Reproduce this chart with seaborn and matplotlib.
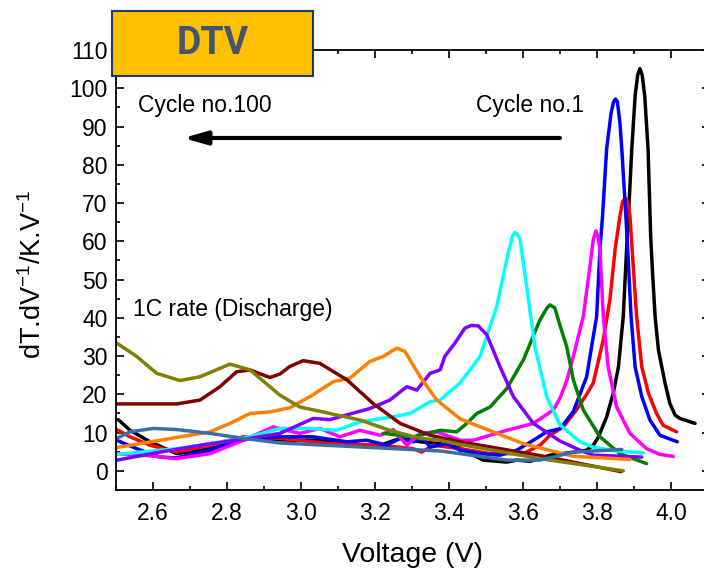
import matplotlib
matplotlib.use("Agg")
import matplotlib.pyplot as plt
from matplotlib.patches import Rectangle
from matplotlib.ticker import MultipleLocator
import seaborn as sns
import pandas as pd

# ---------------- data ----------------
V_black = [2.506, 2.538, 2.592, 2.664, 2.754, 2.862, 2.97, 3.078, 3.168, 3.214, 3.268, 3.322, 3.376, 3.43, 3.466,
           3.493, 3.556, 3.583, 3.62, 3.673, 3.73, 3.772, 3.79, 3.804, 3.826, 3.844, 3.858, 3.871, 3.88, 3.885,
           3.894, 3.903, 3.910, 3.916, 3.922, 3.929, 3.938, 3.945, 3.95, 3.957, 3.966, 3.984, 3.997, 4.011, 4.024,
           4.065]
T_black = [13.4, 10.6, 7.6, 4.5, 5.8, 8.5, 8.0, 8.0, 6.7, 6.7, 8.5, 7.6, 7.1, 6.0, 4.1,
           2.8, 2.3, 2.8, 2.5, 4.1, 4.8, 5.4, 6.7, 8.9, 14.1, 20.3, 27.2, 40.4, 57.9, 66.6,
           84.1, 98.0, 103.5, 105.1, 103.5, 98.0, 84.1, 61.4, 52.0, 40.4, 31.6, 22.9, 17.6, 14.6, 13.7,
           12.4]

V_red = [2.502, 2.538, 2.592, 2.664, 2.754, 2.844, 2.943, 3.078, 3.214, 3.303, 3.326, 3.358, 3.43, 3.511, 3.601,
         3.646, 3.673, 3.709, 3.745, 3.772, 3.79, 3.817, 3.835, 3.849, 3.862, 3.869, 3.876, 3.883, 3.889, 3.895,
         3.907, 3.921, 3.939, 3.961, 3.979, 4.015]
T_red = [10.8, 8.9, 6.7, 4.9, 6.7, 8.9, 8.5, 7.1, 6.7, 5.8, 4.9, 6.7, 5.8, 4.5, 4.5,
         6.7, 9.3, 11.5, 16.0, 20.0, 23.0, 34.3, 44.8, 57.9, 66.6, 70.3, 71.4, 70.3, 66.6, 57.9,
         40.4, 27.2, 20.3, 15.0, 11.9, 10.2]

V_blue = [2.502, 2.556, 2.619, 2.664, 2.754, 2.844, 2.943, 3.033, 3.124, 3.178, 3.232, 3.268, 3.303, 3.33, 3.349,
          3.394, 3.43, 3.484, 3.538, 3.583, 3.628, 3.664, 3.70, 3.736, 3.772, 3.799, 3.808, 3.815, 3.826, 3.838,
          3.845, 3.85, 3.855, 3.862, 3.867, 3.878, 3.883, 3.892, 3.903, 3.921, 3.943, 3.97, 4.017]
T_blue = [8.0, 5.8, 3.6, 3.4, 5.4, 8.5, 8.9, 8.9, 7.6, 8.0, 6.7, 8.5, 7.6, 8.5, 6.2,
          7.1, 5.4, 4.5, 4.1, 5.4, 8.0, 10.2, 11.0, 15.5, 24.6, 40.4, 57.9, 66.6, 84.1, 93.5,
          96.5, 97.2, 96.5, 91.0, 84.1, 66.6, 57.9, 40.4, 27.2, 19.4, 13.3, 9.3, 7.6]

V_magenta = [2.5, 2.574, 2.664, 2.754, 2.844, 2.925, 2.961, 2.997, 3.051, 3.105, 3.159, 3.214, 3.249, 3.286, 3.322,
             3.367, 3.43, 3.466, 3.556, 3.628, 3.682, 3.70, 3.718, 3.736, 3.763, 3.781, 3.79, 3.797, 3.803, 3.808,
             3.817, 3.83, 3.853, 3.889, 3.934, 3.97, 4.006]
T_magenta = [4.5, 4.1, 3.2, 4.5, 8.0, 11.5, 10.6, 9.8, 11.1, 8.9, 10.6, 9.3, 10.8, 6.7, 9.8,
             10.2, 8.0, 8.0, 10.6, 12.4, 15.9, 19.0, 23.5, 29.9, 40.4, 53.5, 60.5, 62.7, 61.0, 57.9,
             40.4, 27.2, 16.7, 9.8, 5.8, 4.3, 3.8]

V_green = [3.222, 3.303, 3.376, 3.421, 3.448, 3.475, 3.511, 3.556, 3.601, 3.646, 3.665, 3.673, 3.686, 3.70, 3.718,
           3.736, 3.763, 3.808, 3.862, 3.934]
T_green = [9.8, 8.9, 10.6, 10.2, 12.4, 15.0, 16.7, 21.5, 29.0, 39.5, 42.6, 43.4, 42.6, 38.0, 32.5,
           23.8, 15.9, 8.9, 4.5, 1.9]

V_cyan = [2.502, 2.664, 2.754, 2.862, 2.943, 3.024, 3.096, 3.159, 3.24, 3.295, 3.349, 3.376, 3.43, 3.484, 3.529,
          3.56, 3.572, 3.578, 3.585, 3.592, 3.61, 3.632, 3.664, 3.70, 3.754, 3.79, 3.85, 3.925]
T_cyan = [4.3, 5.8, 7.1, 8.9, 11.1, 11.1, 10.6, 12.8, 14.0, 15.0, 18.1, 18.5, 23.0, 29.9, 43.0,
          57.0, 61.5, 62.3, 61.8, 60.5, 48.2, 32.5, 19.4, 12.0, 7.6, 6.2, 5.2, 4.7]

V_purple = [2.502, 2.619, 2.754, 2.862, 2.943, 3.033, 3.078, 3.186, 3.24, 3.286, 3.313, 3.349, 3.376, 3.389, 3.416,
            3.443, 3.46, 3.479, 3.502, 3.538, 3.574, 3.628, 3.70, 3.754, 3.79, 3.921]
T_purple = [2.8, 4.9, 7.1, 8.5, 9.8, 13.7, 13.4, 16.3, 18.5, 22.0, 21.1, 25.5, 26.4, 30.0, 33.4,
            37.3, 38.0, 37.9, 35.6, 27.2, 19.4, 12.4, 7.8, 5.4, 4.1, 3.6]

V_orange = [2.502, 2.619, 2.754, 2.808, 2.862, 2.916, 2.97, 3.024, 3.087, 3.132, 3.186, 3.222, 3.259, 3.281, 3.322,
            3.367, 3.43, 3.466, 3.601, 3.736, 3.889]
T_orange = [6.1, 8.0, 10.2, 12.4, 15.0, 15.4, 16.5, 19.4, 23.3, 24.2, 28.6, 29.9, 32.1, 31.2, 24.6,
            18.5, 13.6, 12.2, 7.1, 3.8, 3.0]

V_maroon = [2.502, 2.664, 2.727, 2.781, 2.826, 2.862, 2.916, 2.943, 2.97, 3.006, 3.051, 3.124, 3.195, 3.268, 3.349,
            3.43, 3.646, 3.865]
T_maroon = [17.5, 17.5, 18.5, 22.0, 25.9, 26.4, 24.4, 25.3, 27.3, 28.8, 28.1, 23.8, 17.6, 12.4, 9.3,
            7.6, 4.0, -0.2]

V_olive = [2.502, 2.556, 2.61, 2.673, 2.727, 2.808, 2.862, 2.916, 2.943, 2.997, 3.078, 3.159, 3.24, 3.322, 3.376,
           3.43, 3.646, 3.871]
T_olive = [33.4, 29.9, 25.5, 23.6, 24.6, 27.9, 26.4, 22.0, 19.8, 16.7, 15.0, 13.3, 10.6, 8.5, 8.0,
           6.9, 3.2, 0.0]

V_steel = [2.502, 2.538, 2.601, 2.664, 2.754, 2.844, 2.943, 3.15, 3.376, 3.43, 3.556, 3.646, 3.736, 3.867]
T_steel = [8.5, 10.2, 11.1, 10.8, 9.8, 8.5, 7.3, 6.3, 5.2, 4.5, 2.8, 2.8, 4.9, 5.6]

series = [
    ("black", V_black, T_black, "#000000"),
    ("red", V_red, T_red, "#FF0000"),
    ("blue", V_blue, T_blue, "#0000FF"),
    ("magenta", V_magenta, T_magenta, "#FF00FF"),
    ("green", V_green, T_green, "#008000"),
    ("cyan", V_cyan, T_cyan, "#00FFFF"),
    ("purple", V_purple, T_purple, "#8000FF"),
    ("orange", V_orange, T_orange, "#FF8000"),
    ("maroon", V_maroon, T_maroon, "#800000"),
    ("olive", V_olive, T_olive, "#808000"),
    ("steel", V_steel, T_steel, "#3A6EA5"),
]

rows = []
for name, vs, ts, _ in series:
    for v, t in zip(vs, ts):
        rows.append({"curve": name, "V": v, "T": t})
df = pd.DataFrame(rows)
palette = {name: c for name, _, _, c in series}

# ---------------- style ----------------
sns.set_theme(style="ticks")
plt.rcParams["font.family"] = ["Liberation Sans", "DejaVu Sans"]
plt.rcParams["mathtext.fontset"] = "custom"
plt.rcParams["mathtext.rm"] = "Liberation Sans"
plt.rcParams["mathtext.it"] = "Liberation Sans:italic"
for k in ["text.color", "axes.labelcolor", "xtick.color", "ytick.color", "axes.edgecolor"]:
    plt.rcParams[k] = "black"

fig = plt.figure(figsize=(7.04, 5.72), dpi=100)
ax = fig.add_axes([116 / 704, 82 / 572, 594 / 704, 440 / 572])

sns.lineplot(data=df, x="V", y="T", hue="curve", hue_order=[s[0] for s in series],
             palette=palette, sort=False, estimator=None, linewidth=2.5, legend=False, ax=ax)

ax.set_xlim(2.5, 4.1054)
ax.set_ylim(-5, 110)
ax.xaxis.set_major_locator(MultipleLocator(0.2))
ax.xaxis.set_minor_locator(MultipleLocator(0.1))
ax.yaxis.set_major_locator(MultipleLocator(10))
ax.yaxis.set_minor_locator(MultipleLocator(5))
ax.set_xticks([2.6, 2.8, 3.0, 3.2, 3.4, 3.6, 3.8, 4.0])
ax.set_xticklabels(["2.6", "2.8", "3.0", "3.2", "3.4", "3.6", "3.8", "4.0"])
ax.set_yticks(list(range(0, 111, 10)))

ax.tick_params(which="both", direction="in", top=True, right=True, width=1.2)
ax.tick_params(which="major", length=6, labelsize=16.5, pad=6)
ax.tick_params(axis="x", which="major", pad=9)
ax.tick_params(which="minor", length=3)
for s in ax.spines.values():
    s.set_linewidth(1.3)

ax.set_xlabel("Voltage (V)", fontsize=20.5, labelpad=12)
ax.set_ylabel(r"dT.dV$^{-1}$/K.V$^{-1}$", fontsize=19.5)
ax.yaxis.set_label_coords(-0.117, 0.49)

ax.text(2.559, 95.4, "Cycle no.100", fontsize=16.5, va="center", ha="left")
ax.text(3.473, 95.4, "Cycle no.1", fontsize=16.5, va="center", ha="left")
ax.text(2.546, 42.1, "1C rate (Discharge)", fontsize=16.5, va="center", ha="left")
ax.annotate("", xy=(2.682, 87.0), xytext=(3.70, 87.0),
            arrowprops=dict(arrowstyle="-|>,head_length=0.7,head_width=0.2",
                            lw=3.0, color="black", mutation_scale=20, shrinkA=0, shrinkB=0))

box = Rectangle((112 / 704, 1 - 76 / 572), 201 / 704, 65 / 572, transform=fig.transFigure,
                facecolor="#FFC000", edgecolor="#1F3864", linewidth=1.5, zorder=10)
fig.patches.append(box)
fig.text(213 / 704, 1 - 44 / 572, "DTV", transform=fig.transFigure, ha="center", va="center",
         fontsize=27, fontweight="bold", color="#44546A",
         family=["Roboto", "Liberation Sans"], zorder=11)

fig.savefig("out.png", dpi=100)
